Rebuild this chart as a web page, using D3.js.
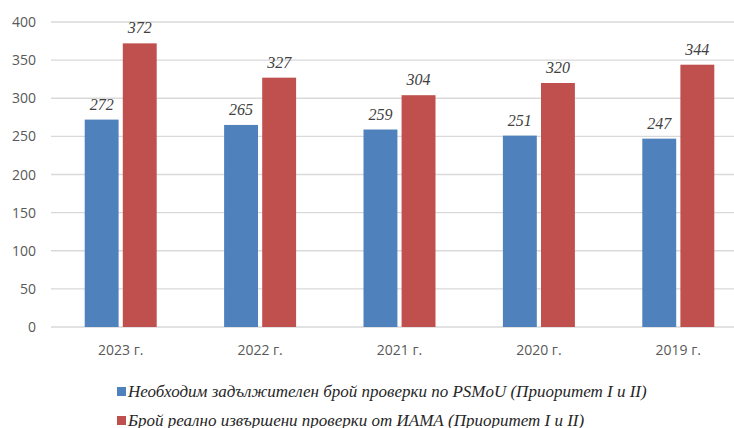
<!DOCTYPE html>
<html>
<head>
<meta charset="utf-8">
<script src="https://cdn.jsdelivr.net/npm/d3@7"></script>
<style>
  body { margin: 0; background: #fff; }
  svg { display: block; }
</style>
</head>
<body>
<svg id="chart" width="734" height="428"></svg>
<script>
const years = ['2023 г.', '2022 г.', '2021 г.', '2020 г.', '2019 г.']
const required = [272, 265, 259, 251, 247]
const performed = [372, 327, 304, 320, 344]
const seriesNames = [
	'Необходим задължителен брой проверки по PSMoU (Приоритет I и II)',
	'Брой реално извършени проверки от ИАМА (Приоритет I и II)'
]
const colors = ['#4F81BD', '#C0504D']
const yTicks = [0, 50, 100, 150, 200, 250, 300, 350, 400]

var svg = d3.select('#chart')

var x = d3.scaleBand().domain(years).range([51, 748])
var y = d3.scaleLinear().domain([0, 400]).range([327, 22])
var xs = d3.scaleBand().domain([0, 1]).range([0, 72]).paddingInner(0.11)

// gridlines
svg.append('g').selectAll('line').data(yTicks).join('line')
	.attr('x1', 51).attr('x2', 734)
	.attr('y1', d => y(d)).attr('y2', d => y(d))
	.attr('stroke', '#D9D9D9').attr('stroke-width', 1.3)

// y axis labels
svg.append('g').selectAll('text').data(yTicks).join('text')
	.attr('x', 36).attr('y', d => y(d) + 5)
	.attr('text-anchor', 'end')
	.attr('font-family', 'Open Sans, sans-serif').attr('font-size', 14)
	.attr('fill', '#595959')
	.text(d => d)

var series = [required, performed]
series.forEach((vals, s) => {
	var g = svg.append('g')
	var cx = yr => x(yr) + x.bandwidth() / 2 - 36 + xs(s)
	g.selectAll('rect').data(years).join('rect')
		.attr('x', d => cx(d))
		.attr('width', xs.bandwidth())
		.attr('y', (d, i) => y(vals[i]))
		.attr('height', (d, i) => y(0) - y(vals[i]))
		.attr('fill', colors[s])
	g.selectAll('text').data(years).join('text')
		.attr('x', d => cx(d) + xs.bandwidth() / 2)
		.attr('y', (d, i) => y(vals[i]) - 10)
		.attr('text-anchor', 'middle')
		.attr('font-family', 'Liberation Serif, serif').attr('font-style', 'italic')
		.attr('font-size', 16).attr('fill', '#404040')
		.text((d, i) => vals[i])
})

// category labels
svg.append('g').selectAll('text').data(years).join('text')
	.attr('x', d => x(d) + x.bandwidth() / 2)
	.attr('y', 355)
	.attr('text-anchor', 'middle')
	.attr('font-family', 'Open Sans, sans-serif').attr('font-size', 14)
	.attr('fill', '#595959')
	.text(d => d)

// legend
var leg = svg.append('g').selectAll('g').data(seriesNames).join('g')
	.attr('transform', (d, i) => `translate(117, ${392 + i * 29})`)
leg.append('rect').attr('x', 0).attr('y', -5).attr('width', 9).attr('height', 9)
	.attr('fill', (d, i) => colors[i])
leg.append('text').attr('x', 11).attr('y', 5)
	.attr('font-family', 'Liberation Serif, serif').attr('font-style', 'italic')
	.attr('font-size', 17).attr('fill', '#262626')
	.text(d => d)
</script>
</body>
</html>
